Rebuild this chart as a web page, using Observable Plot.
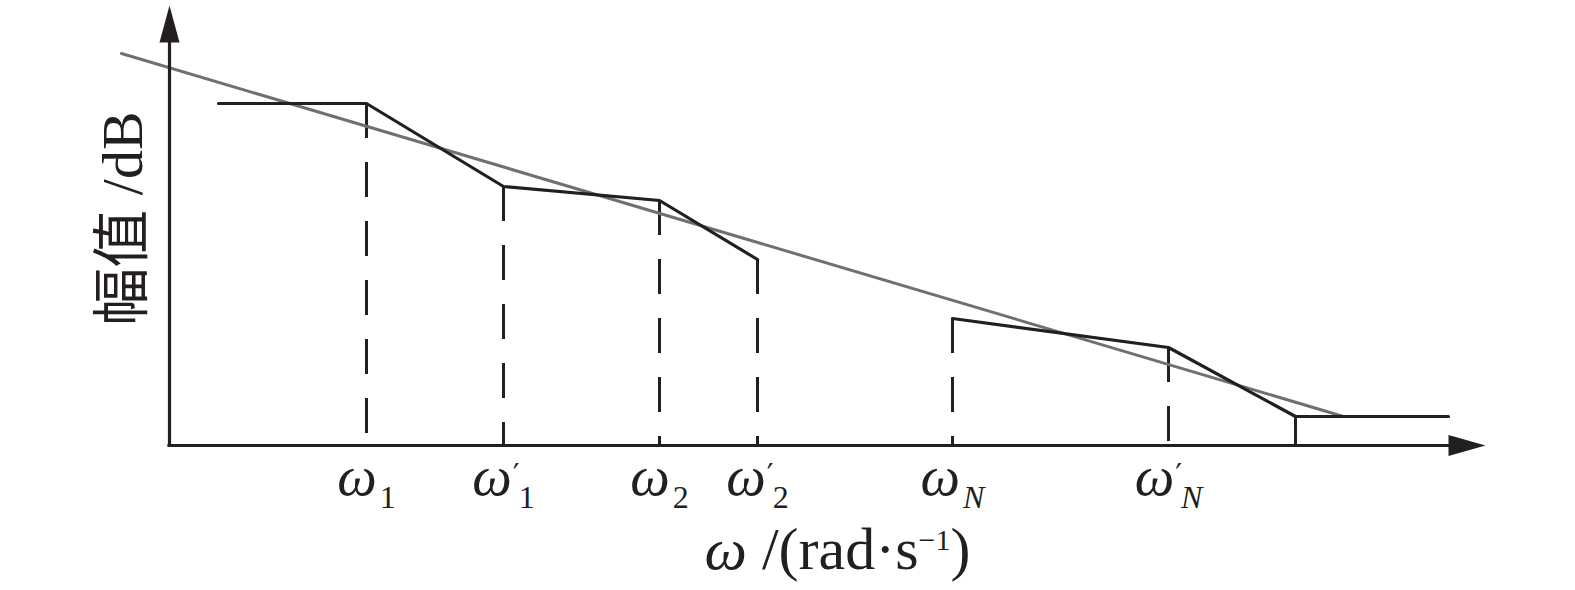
<!DOCTYPE html>
<html>
<head>
<meta charset="utf-8">
<script src="https://cdn.jsdelivr.net/npm/d3@7"></script>
<script src="https://cdn.jsdelivr.net/npm/@observablehq/plot@0.6"></script>
<style>
  html, body { margin: 0; padding: 0; background: #ffffff; }
  #chart svg { display: block; }
</style>
</head>
<body>
<div id="chart"></div>
<script>
// ---- data (ω in relative units from the origin, magnitude in relative dB units) ----
const breakW   = [197, 334, 490, 588, 783, 999];     // ω1, ω'1, ω2, ω'2, ωN, ω'N
const breakDB  = [342, 259, 245, 186, 127, 98];      // top of each dashed marker
const tickBase   = ["ω", "ω", "ω", "ω", "ω", "ω"];
const tickSub    = ["1", "1", "2", "2", "N", "N"];
const tickPrime  = [false, true, false, true, false, true];

const seg1W  = [49, 197, 334, 490, 588];
const seg1DB = [342, 342, 259, 245, 186];
const seg2W  = [783, 999, 1126, 1279];
const seg2DB = [127, 98, 29, 29];
const endW   = [1126];
const endDB  = [29];

const fitW  = [-48, 1174];
const fitDB = [392, 29];

const axisMaxW = 1316;
const axisMaxDB = 440;

const xLabel = "ω /(rad·s−1)";
const yLabel = "幅值 /dB";

// ---- build tables ----
const seg1 = seg1W.map((w, i) => ({w, db: seg1DB[i]}));
const seg2 = seg2W.map((w, i) => ({w, db: seg2DB[i]}));
const fit = fitW.map((w, i) => ({w, db: fitDB[i]}));
const breaks = breakW.map((w, i) => ({w, db: breakDB[i], base: tickBase[i], sub: tickSub[i], prime: tickPrime[i]}));
const ends = endW.map((w, i) => ({w, db: endDB[i]}));

const ink = "#231f20";
const serif = "'Liberation Serif', 'DejaVu Serif', serif";

const arrowUp = { draw(ctx) { ctx.moveTo(0, 0); ctx.lineTo(-10, 37); ctx.lineTo(10, 37); ctx.closePath(); } };
const arrowRight = { draw(ctx) { ctx.moveTo(0, 0); ctx.lineTo(-37, -10.5); ctx.lineTo(-37, 10.5); ctx.closePath(); } };

const plot = Plot.plot({
  width: 1575,
  height: 590,
  marginLeft: 169,
  marginRight: 90,
  marginTop: 5,
  marginBottom: 145,
  style: { background: "#ffffff", color: ink, fontFamily: serif },
  x: { domain: [0, axisMaxW], axis: null },
  y: { domain: [0, axisMaxDB], axis: null },
  marks: [
    // dashed markers at the break frequencies
    Plot.ruleX(breaks, { x: "w", y1: "db", y2: 0, stroke: ink, strokeWidth: 3, strokeDasharray: "35,24" }),
    // solid marker at the last corner
    Plot.ruleX(ends, { x: "w", y1: "db", y2: 0, stroke: ink, strokeWidth: 3 }),
    // fitted gray line
    Plot.line(fit, { x: "w", y: "db", stroke: "#707070", strokeWidth: 3 }),
    // piecewise asymptotes
    Plot.line(seg1, { x: "w", y: "db", stroke: ink, strokeWidth: 3.2, strokeLinejoin: "miter" }),
    Plot.line(seg2, { x: "w", y: "db", stroke: ink, strokeWidth: 3.2, strokeLinejoin: "miter" }),
    // axes
    Plot.ruleX([0], { y1: 0, y2: axisMaxDB - 30, stroke: ink, strokeWidth: 3.2, strokeLinecap: "square" }),
    Plot.ruleY([0], { x1: 0, x2: axisMaxW - 30, stroke: ink, strokeWidth: 3.2, strokeLinecap: "square" }),
    Plot.dot([{ w: 0, db: axisMaxDB }], { x: "w", y: "db", symbol: arrowUp, fill: ink, stroke: "none" }),
    Plot.dot([{ w: axisMaxW, db: 0 }], { x: "w", y: "db", symbol: arrowRight, fill: ink, stroke: "none" }),
    // tick labels
    Plot.text(breaks, { x: "w", y: 0, text: "base", dy: 49, lineAnchor: "bottom", textAnchor: "middle",
      fontSize: 56, fontFamily: serif, fill: ink, className: "ticklab" }),
    // axis labels
    Plot.text([xLabel], { frameAnchor: "bottom", dx: 10, dy: 123, lineAnchor: "bottom", textAnchor: "middle",
      fontSize: 60, fontFamily: serif, fill: ink, className: "xlab" }),
    Plot.text([yLabel], { frameAnchor: "left", dx: -46, dy: -7, rotate: -90, lineAnchor: "middle", textAnchor: "middle",
      fontSize: 58, fontFamily: serif + ", 'Noto Sans CJK SC'", fill: ink, className: "ylab" })
  ]
});

document.getElementById("chart").appendChild(plot);

// ---- typeset tick labels: italic ω, prime and subscript ----
const svg = d3.select(plot);
svg.selectAll("g.ticklab text").each(function (_, i) {
  const t = d3.select(this);
  const d = breaks[i];
  t.text(null);
  t.append("tspan").attr("font-style", "italic").text(d.base);
  const subStyle = d.sub === "N" ? "italic" : "normal";
  if (d.prime) {
    t.append("tspan").attr("font-size", 30).attr("dy", -10).attr("dx", 1)
      .attr("font-family", "'DejaVu Serif', serif").text("′");
    t.append("tspan").attr("font-size", 32).attr("dx", -1).attr("dy", 23)
      .attr("font-style", subStyle).text(d.sub);
  } else {
    t.append("tspan").attr("font-size", 32).attr("dx", 3).attr("dy", 13)
      .attr("font-style", subStyle).text(d.sub);
  }
});

// ---- typeset x label ----
svg.selectAll("g.xlab text").each(function () {
  const t = d3.select(this);
  const parts = xLabel.split("−1");
  t.text(null);
  t.append("tspan").attr("font-style", "italic").text(parts[0].slice(0, 1));
  t.append("tspan").text(parts[0].slice(1));
  t.append("tspan").attr("font-size", 30).attr("dy", -19).text("−1");
  t.append("tspan").attr("dy", 19).text(parts[1]);
});
</script>
</body>
</html>
